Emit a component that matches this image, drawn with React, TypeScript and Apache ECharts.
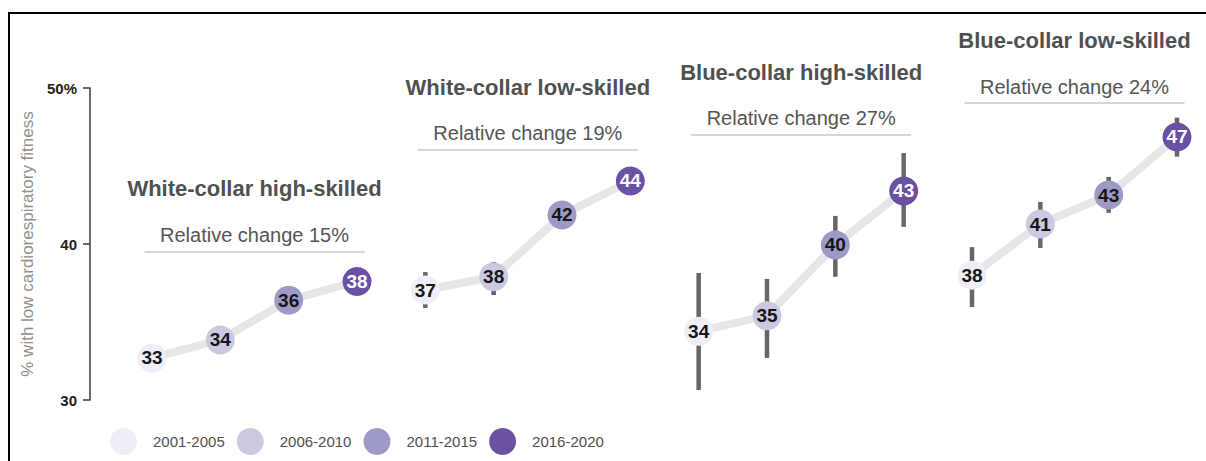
import React, { useEffect, useRef } from "react";
import * as echarts from "echarts";

// ---------- data ----------
const periods = ["2001-2005", "2006-2010", "2011-2015", "2016-2020"];
const groups = [
  "White-collar high-skilled",
  "White-collar low-skilled",
  "Blue-collar high-skilled",
  "Blue-collar low-skilled",
];
const relativeChange = [15, 19, 27, 24];

// point estimates (% with low cardiorespiratory fitness), per period
const whiteHigh = [32.7, 33.85, 36.4, 37.6];
const whiteLow = [37.05, 37.9, 41.86, 44.04];
const blueHigh = [34.4, 35.4, 39.94, 43.4];
const blueLow = [38.0, 41.28, 43.14, 46.86];

// confidence intervals (lower / upper)
const whiteHighLo = [32.1, 33.3, 35.8, 37.0];
const whiteHighHi = [33.3, 34.4, 37.0, 38.2];
const whiteLowLo = [35.9, 36.73, 41.2, 43.4];
const whiteLowHi = [38.2, 38.85, 42.5, 44.7];
const blueHighLo = [30.64, 32.7, 37.9, 41.1];
const blueHighHi = [38.14, 37.76, 41.8, 45.83];
const blueLowLo = [35.96, 39.74, 42.0, 45.6];
const blueLowHi = [39.8, 42.7, 44.3, 48.1];

const yTickValues = [30, 40, 50];
const yTickLabels = ["30", "40", "50%"];

// ---------- styles ----------
const periodColors = ["#efedf5", "#cbc9e2", "#9e9ac8", "#6a51a3"];
const labelColors = ["#161616", "#161616", "#161616", "#ffffff"];
const ARIAL = "'Liberation Sans', Arial, sans-serif";

// annotation layout (pixels): title y, subtitle y, rule y
const annoLayout = [
  { titleY: 188, subY: 235, ruleY: 252 },
  { titleY: 87, subY: 133, ruleY: 150 },
  { titleY: 72, subY: 118, ruleY: 135 },
  { titleY: 40, subY: 87, ruleY: 103 },
];

export default function App() {
  const ref = useRef<HTMLDivElement>(null);

  useEffect(() => {
    if (!ref.current) return;
    const chart = echarts.init(ref.current, null, { renderer: "svg" });

    const values = [whiteHigh, whiteLow, blueHigh, blueLow];
    const los = [whiteHighLo, whiteLowLo, blueHighLo, blueLowLo];
    const his = [whiteHighHi, whiteLowHi, blueHighHi, blueLowHi];

    const lineSeries = values.map((vals, g) => ({
      type: "line",
      name: groups[g],
      data: vals.map((v, p) => [g * 4 + p, v]),
      symbol: "none",
      lineStyle: { color: "#e6e6e6", width: 8 },
      z: 1,
      silent: true,
    }));

    const errData: number[][] = [];
    values.forEach((vals, g) =>
      vals.forEach((_, p) => errData.push([g * 4 + p, los[g][p], his[g][p]]))
    );
    const errSeries = {
      type: "custom",
      name: "ci",
      data: errData,
      z: 2,
      silent: true,
      renderItem: (params: any, api: any) => {
        const a = api.coord([api.value(0), api.value(1)]);
        const b = api.coord([api.value(0), api.value(2)]);
        return {
          type: "line",
          shape: { x1: a[0], y1: a[1], x2: b[0], y2: b[1] },
          style: { stroke: "#666666", lineWidth: 4.5 },
        };
      },
    };

    const scatterSeries = periods.map((name, p) => ({
      type: "scatter",
      name,
      data: values.map((vals, g) => [g * 4 + p, vals[p]]),
      symbol: "circle",
      symbolSize: 29,
      itemStyle: { color: periodColors[p], opacity: 1 },
      z: 3,
      label: {
        show: true,
        position: "inside",
        formatter: (d: any) => String(Math.round(d.value[1])),
        color: labelColors[p],
        fontFamily: ARIAL,
        fontWeight: "bold",
        fontSize: 19,
      },
    }));

    const graphics: any[] = [
      { type: "line", shape: { x1: 8, y1: 13, x2: 1206, y2: 13 }, style: { stroke: "#000", lineWidth: 2 } },
      { type: "line", shape: { x1: 9, y1: 12, x2: 9, y2: 461 }, style: { stroke: "#000", lineWidth: 2 } },
    ];

    const option: any = {
      animation: false,
      backgroundColor: "#ffffff",
      grid: { left: 152, right: 29, top: 88, bottom: 61, containLabel: false },
      xAxis: {
        type: "value",
        min: 0,
        max: 15,
        show: false,
      },
      yAxis: {
        type: "value",
        min: 30,
        max: 50,
        interval: 10,
        offset: 62,
        splitLine: { show: false },
        axisLine: { show: true, onZero: false, lineStyle: { color: "#3a3a3a", width: 1.5 } },
        axisTick: { show: true, length: 7, lineStyle: { color: "#3a3a3a", width: 1.5 } },
        axisLabel: {
          margin: 13,
          color: "#222",
          fontFamily: ARIAL,
          fontWeight: "bold",
          fontSize: 15,
          formatter: (v: number) => {
            const i = yTickValues.indexOf(v);
            return i >= 0 ? yTickLabels[i] : "";
          },
        },
        name: "% with low cardiorespiratory fitness",
        nameLocation: "middle",
        nameRotate: 90,
        nameGap: 53,
        nameTextStyle: { color: "#948e88", fontFamily: ARIAL, fontSize: 17 },
      },
      legend: {
        data: periods,
        left: 105,
        top: 423,
        padding: 5,
        icon: "circle",
        itemWidth: 27,
        itemHeight: 27,
        itemGap: 12,
        selectedMode: false,
        textStyle: {
          color: "#505050",
          fontFamily: ARIAL,
          fontSize: 15,
          padding: [0, 0, 0, 11],
        },
      },
      series: [...lineSeries, errSeries, ...scatterSeries],
      graphic: graphics,
    };

    chart.setOption(option);

    // annotations positioned over each panel's centre (via the x scale)
    const annos: any[] = [];
    groups.forEach((g, i) => {
      const cx = chart.convertToPixel({ xAxisIndex: 0 }, i * 4 + 1.5) as number;
      const L = annoLayout[i];
      annos.push({
        type: "text",
        x: cx,
        y: L.titleY,
        style: {
          text: g,
          fill: "#505050",
          font: `bold 22px ${ARIAL}`,
          align: "center",
          verticalAlign: "middle",
        },
      });
      annos.push({
        type: "text",
        x: cx,
        y: L.subY,
        style: {
          text: `Relative change ${relativeChange[i]}%`,
          fill: "#555",
          font: `20px ${ARIAL}`,
          align: "center",
          verticalAlign: "middle",
        },
      });
      annos.push({
        type: "line",
        shape: { x1: cx - 110, y1: L.ruleY, x2: cx + 110, y2: L.ruleY },
        style: { stroke: "#c8c8c8", lineWidth: 1.5 },
      });
    });
    chart.setOption({ graphic: [...graphics, ...annos] });

    return () => chart.dispose();
  }, []);

  return (
    <div
      ref={ref}
      style={{ position: "absolute", left: 0, top: 0, width: 1206, height: 461 }}
    />
  );
}
